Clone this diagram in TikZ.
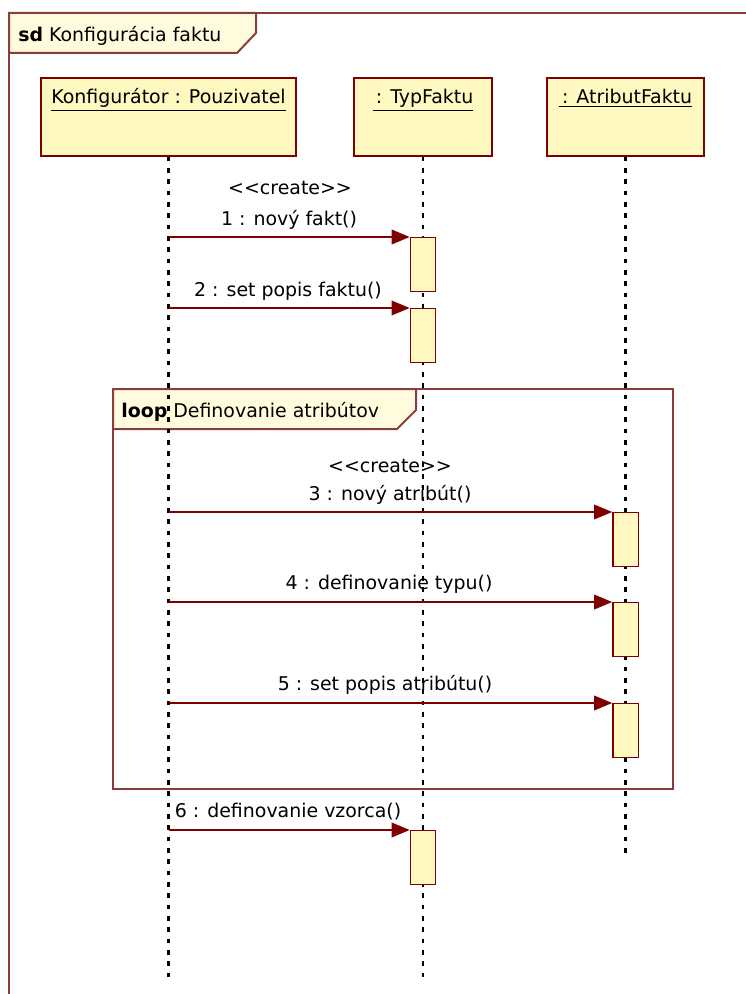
\documentclass[tikz,border=0pt]{standalone}
\usepackage{fontspec}
\setmainfont{DejaVu Sans}
\usetikzlibrary{arrows.meta}
\usetikzlibrary{positioning}
\usetikzlibrary{calc}

\definecolor{umlred}{HTML}{7F0000}
\definecolor{framered}{HTML}{8B3D3D}
\definecolor{umlyellow}{HTML}{FFF8C0}
\definecolor{framefill}{HTML}{FFFBDC}

\begin{document}
\begin{tikzpicture}[x=0.75pt,y=-0.75pt,
    font=\fontsize{14.2}{16}\selectfont,
    headbox/.style={draw=umlred, fill=umlyellow, line width=1.2pt, minimum height=58.5pt, anchor=north, inner sep=0pt},
    actbox/.style={draw=umlred, fill=umlyellow, line width=1pt, minimum width=19pt, minimum height=40.5pt, anchor=north, inner sep=0pt},
    lifeline/.style={line width=1.6pt, dash pattern=on 3.5pt off 5pt},
    msg/.style={draw=umlred, line width=1pt, -{Triangle[length=13.5pt,width=11pt]}},
    framebox/.style={draw=framered, line width=1.5pt},
    msglabel/.style={anchor=base, inner sep=0pt}]

            \useasboundingbox (0,0) rectangle (745,994);

            % Outer frame
            \draw[framebox] (9,994) -- (9,13) -- (746,13);
            \filldraw[framebox, fill=framefill] (9,13) -- (256,13) -- (256,33) -- (237,53) -- (9,53) -- cycle;
            \node[anchor=base west, inner sep=0pt] (sdtitle) at (18,42) {\textbf{sd} Konfigurácia faktu};

            % Loop fragment
            \draw[framebox] (113,389) rectangle (673,789);
            \filldraw[framebox, fill=framefill] (113,389) -- (416,389) -- (416,410) -- (397,429) -- (113,429) -- cycle;
            \node[anchor=base west, inner sep=0pt] (looptitle) at (121,417) {\textbf{loop} Definovanie atribútov};

            % Objects
            \node[headbox, minimum width=191pt] (user) at (168.5,77) {};
            \node[headbox, minimum width=103.5pt] (typ) at (423,77) {};
            \node[headbox, minimum width=118pt] (atr) at (625.5,77) {};
            \node[msglabel] (usertext) at (user.north |- 0,104) {\underline{Konfigurátor : Pouzivatel}};
            \node[msglabel] (typtext) at (typ.north |- 0,104) {\underline{\,: TypFaktu}};
            \node[msglabel] (atrtext) at (atr.north |- 0,104) {\underline{\,: AtributFaktu}};

            % Labels
            \node[msglabel] (cr1) at (290,195) {<{}<create>{}>};
            \node[msglabel] (lab1) at (289,226) {1 : nový fakt()};
            \node[msglabel] (lab2) at (288,297) {2 : set popis faktu()};
            \node[msglabel] (cr3) at (390,472) {<{}<create>{}>};
            \node[msglabel] (lab3) at (390,500) {3 : nový atribút()};
            \node[msglabel] (lab4) at (389,589) {4 : definovanie typu()};
            \node[msglabel] (lab5) at (385,690) {5 : set popis atribútu()};
            \node[msglabel] (lab6) at (288,817) {6 : definovanie vzorca()};

            % Lifelines
            \coordinate (userend) at (user.south |- 0,977);
            \coordinate (typend) at (typ.south |- 0,977);
            \coordinate (atrend) at (atr.south |- 0,858);
            \draw[lifeline] (user.south) -- (userend);
            \draw[lifeline] (typ.south) -- (typend);
            \draw[lifeline] (atr.south) -- (atrend);

            % Activations
            \node[actbox] (act1) at (423,237) {};
            \node[actbox] (act2) at (423,308) {};
            \node[actbox] (act3) at (625.5,512) {};
            \node[actbox] (act4) at (625.5,602) {};
            \node[actbox] (act5) at (625.5,703) {};
            \node[actbox] (act6) at (423,830) {};

            % Messages
            \foreach \a in {1,...,6} {
                \draw[msg] (user.south |- act\a.north) -- (act\a.north west);
            }

        \end{tikzpicture}
\end{document}
